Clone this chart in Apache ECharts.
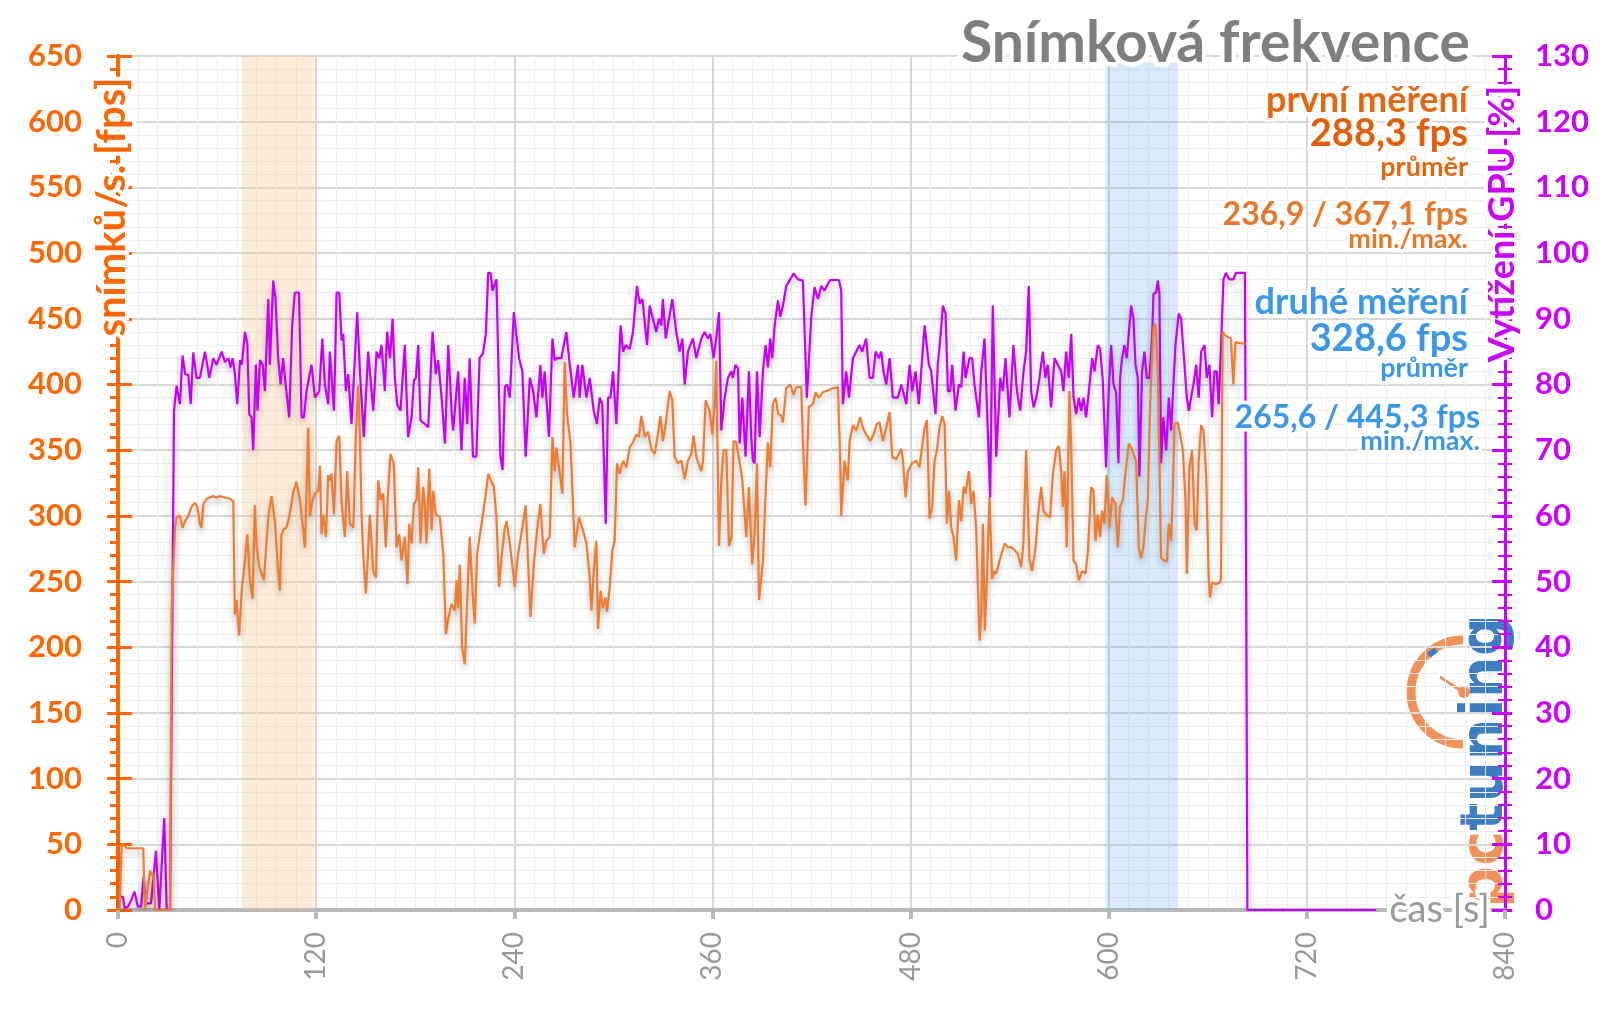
<!DOCTYPE html>
<html>
<head>
<meta charset="utf-8">
<script src="https://cdn.jsdelivr.net/npm/echarts@6/dist/echarts.min.js"></script>
<style>html,body{margin:0;padding:0;background:#fff;}#c{width:1600px;height:1009px;}</style>
</head>
<body>
<div id="c"></div>
<script>
// time axis [s]
const xMin = 0, xMax = 840, xStep = 120;
const fpsMin = 0, fpsMax = 650, fpsStep = 50;
const gpuMin = 0, gpuMax = 130, gpuStep = 10;

// first measurement: frame rate [fps]
const fpsT = [
1,2.2,4.2,5.2,15.3,16.3,17.5,19.4,20.6,21.5,
22.5,31.5,32.5,34.5,35.5,37.5,39.1,40.6,42.6,44.6,
46.6,48,49.6,50.6,51.7,53.7,55.7,57.7,59.7,61.7,
64.8,67.8,69.8,70.8,71.8,73.4,74.9,76.9,78.3,79.9,
81.5,82.9,84,85.6,87,88.4,89.6,91,93,95,
96.4,98,99,100.5,102,104,106,108,110.2,112.2,
113.2,115.2,116.2,117.8,119.3,121.3,122.3,123.3,124.3,126,
127.3,128.3,129.3,130.8,132.4,134,135.4,137.4,138.8,140.4,
142.5,144,145.5,146.5,147.5,148.5,150.1,151.5,152.5,154.6,
156.2,157.6,159,160.6,162.2,163.6,165,167,168.7,170.3,
171.7,173.7,175.3,176.4,177.8,179.2,180.8,181.8,183.2,184.8,
185.8,186.8,188.5,189.9,190.9,192.5,194.9,197,198.6,200,
202,204,205,206,207,208.4,210,211,213,214.7,
216,217.5,219,221,222.8,224.2,226.2,227.6,229.2,230.8,
232.2,234.3,235.3,237.3,240.3,242.3,244.9,246.9,249.8,251.8,
254.4,255.8,257.8,259.4,261.5,263.1,264.5,265.5,267.1,269.1,
270.5,271.9,274,275.2,276.6,279.2,281.6,283.7,285.7,286.7,
288.1,289.7,290.7,292.3,293.7,295.4,296.2,297.8,299.4,300.8,
302.2,303.8,305.9,307.9,309.9,311.9,314,315.5,317,319,
321,323,325,327,328.5,330,331.7,334.1,335.7,337.1,
339.1,341.2,343.2,345.2,347.2,348.6,350.2,353.3,354.3,355.9,
357.3,358.3,359.9,361.3,362.3,364,365.4,366.8,368.4,370,
371.6,372.8,374.4,376.5,378.1,380.5,382.1,384.1,385.5,387,
388.2,390.6,392.2,393.6,395,396.6,398.3,399.7,401.7,402.7,
404.7,407.1,409.2,410.8,413.8,414.8,416.4,418.4,420.9,422.5,
424.5,426.9,428.9,433,436,437.4,438,440,442,443.1,
445.1,447.1,449.5,451.1,453.1,455.6,457.6,459.6,461.2,463.2,
465.3,467.3,468.9,471.3,474.4,475.4,477,478.4,481,483.4,
485.4,488.5,489.9,491.5,493.1,494.5,496,497.5,499.2,500.6,
502,503.2,504.6,506,507.6,509.3,510.7,512.1,513.3,515.3,
516.7,518.1,519.7,521.8,522.8,523.8,525,526.2,527.8,529.4,
530.8,531.9,533.9,536.9,538.9,541,543,545,547,548.4,
550,552,553.6,555.7,557.1,559.1,560.5,562.1,564.5,566.2,
568.2,569.8,571.2,572.2,573.2,574.6,576.2,577.3,578.7,580.3,
581.9,583.9,585.9,587.3,589.4,590.8,592,593.4,594.8,596,
597.4,598.8,600.5,602.1,604.1,605.5,606.9,608.5,610.1,612.2,
613.6,615,616.6,618.2,619.6,621,622.7,623.7,624.7,625.7,
627.1,628.3,629.7,630.7,631.7,633.7,635.2,636.4,637.8,638.8,
639.8,641.8,643.2,644.9,646.5,647.3,648.9,650.5,652,653.3,
654.5,656,657.4,659,660.6,661.4,662.6,665,667,668,
669,671,674,675.5,676.7,682.2,683
];
const fpsV = [
0,49,49,47,47,0,0,30,26,28,
0,0,228,291,299,300,291,296,300,307,
310,307,294,291,309,313,314,315,314,315,
314,313,311,225,236,209,243,266,286,251,
237,308,276,261,256,251,274,299,315,296,
268,243,286,290,291,301,317,326,312,289,
276,367,300,312,317,319,338,286,301,284,
331,327,332,301,357,361,310,284,334,294,
291,360,399,361,301,271,241,274,301,258,
253,327,312,317,276,319,347,340,276,286,
266,284,248,294,279,309,312,337,279,322,
309,279,336,289,319,301,299,271,210,222,
233,228,251,230,263,200,187,220,284,243,
218,271,284,301,317,332,326,322,299,246,
268,291,296,279,246,271,291,308,223,263,
296,309,271,281,284,360,334,352,337,317,
417,378,356,357,276,299,289,279,253,228,
258,281,214,243,230,238,227,246,274,281,
340,332,342,337,352,356,362,360,376,360,
364,351,347,362,376,357,370,395,388,345,
340,342,328,342,347,361,345,334,342,388,
383,380,362,383,418,277,327,350,350,277,
284,357,356,341,327,284,322,263,286,340,
236,266,317,356,337,385,390,378,376,371,
397,400,392,398,398,357,308,383,385,394,
390,394,395,397,398,342,300,342,327,357,
369,365,375,367,362,357,362,370,371,357,
367,379,345,343,351,342,314,334,340,342,
337,367,373,298,307,342,350,367,376,370,
294,319,291,284,266,312,296,322,317,334,
309,319,291,205,225,294,213,251,314,252,
258,256,266,279,276,276,274,271,261,281,
350,266,258,276,299,322,304,301,299,332,
350,353,334,307,334,276,395,352,266,263,
251,258,256,271,322,319,281,301,284,304,
294,331,291,314,309,276,307,312,332,355,
352,347,342,276,268,276,301,312,365,406,
444,446,413,342,268,266,265,294,281,317,
370,371,362,350,312,256,337,350,294,289,
342,369,365,332,251,238,249,248,249,252,
440,437,435,400,432,431,431
];

// GPU load [%]
const gpuT = [
1,3,4,6,8,10,12,14,15.5,17,
20,23,25,28,29.5,31.5,33.9,35.5,37.5,39.1,
40.6,42.6,44,45.6,47.6,49.6,52.7,55.3,57.7,59.7,
62.8,64.8,66.8,68.2,69.4,70.8,72.2,73.9,75,76.9,
78.3,79.5,80.9,81.9,83.5,84.5,86,87.6,89,91,
92,94,95.4,97,98.5,100,101.5,103.7,105.5,107.1,
109.6,111.2,112.6,114.2,117.2,119.3,120.3,121.9,123.7,125.3,
127.3,128.3,129.3,130.8,132.4,134,135.4,136.4,138,139.4,
141.4,144.9,146.5,148.9,151.5,154.6,156.6,158.2,159.6,161.6,
163,164.7,166.3,167.7,169.1,171.1,173.7,175.7,177.8,179.2,
180.4,181.8,183.2,185.8,187.9,190.5,192.5,193.9,196,198,
200,202,203,206,208,210,211.5,213,215,217,
219,221,222.8,224.2,225.6,226.8,229.2,231.6,232.9,234.3,
235.7,237.3,239.7,242.9,244.9,246.9,249.4,251.4,253.4,255.8,
257,258.4,261,263.1,264.5,265.9,268.5,271.5,273.6,276,
278.6,279.6,281.2,283.7,285.7,288.1,290.1,291.7,293.3,295.4,
296.8,298.2,299.8,301.8,304.4,305.9,307.5,309.9,311.9,314.3,
315.9,317.6,320.4,322,324,326,327.6,329,330,331.7,
333.7,335.7,338.1,340.1,341.8,343.2,345.2,346.6,348.2,350.2,
353.3,355.3,357.3,358.7,360.7,362.3,364,365.4,367.4,369.4,
371.4,372.4,374,375.5,376.5,378.1,380.1,382.1,383.5,384.5,
385.5,387,388.6,390.6,392.2,393.6,395,396.2,397.7,399.7,
401.1,402.7,404.7,406.7,409.2,411.8,414.8,417.2,419.9,421.9,
423.9,425.9,427.9,429.9,431.4,436.6,438,439,441,442.7,
445.1,447.1,449.1,450.7,453.1,455.2,457.2,458.8,460.8,462.2,
463.6,465.3,467.3,469.3,472.3,474.4,477.4,479.4,481,483,
485,488.5,491.1,492.5,495.1,496.5,498,499.6,501.2,502.6,
504,505.2,507.2,509.3,510.7,512.1,513.3,515.7,517.3,518.7,
521.4,522.8,524.8,526.2,528.2,529.8,531.9,534.3,535.9,537.5,
539.9,542.3,544.4,546.4,548.4,550,551.6,553,554.5,556.1,
558.1,560.1,561.7,563.1,565.1,567.2,569.2,571.2,572.6,574.2,
575.8,577.3,578.7,580.3,581.9,583.3,584.7,586.3,588.4,590,
591.4,593.4,594.8,596.4,598.4,600,601.5,602.9,604.5,605.9,
606.9,608.1,609.5,610.9,611.9,613.6,615,616.2,617.6,618.6,
620.2,621.6,623.1,624.7,626.3,627.1,628.7,629.7,630.7,631.7,
633.1,634.8,636.4,637.8,638.8,640.4,642.4,643.8,645.9,647.3,
648.5,649.9,651.3,653,654.5,656,658,659.4,661,662.6,
664,665.4,666.6,668,669.5,671,673,675.5,677.1,682.5,
684,762
];
const gpuV = [
2,2,0.3,0.5,1.5,2.8,0.5,0.5,5,1,
1,9,0,14,0,0,76,79.8,77,84.4,
81.6,81.4,77,84.9,81,81,85,81,84,83,
85,83.4,84,82.6,84,81.6,77,83.7,83,88,
86.2,75.5,75,70,83,76,83.7,83,79,93,
83,95.8,93,84,80,84,80,75,89,94,
94,75,75,79,83,78,78,79,87,80,
77,85,85,76,94,94,86.7,87.7,79,81.6,
74,91,82,72,85,76,85,84,86,79,
88,84,90,81,77,76,86,72,75,80.6,
81,86,74.5,74,73.5,88,81.6,83.7,78,71,
86,76,73,82,70,81,74,84,69,69,
84,84.7,87.7,97,97,94.3,96,69,67,79.6,
80,78,91,84,82,69,81,79,75,83,
78,82,72,87,83.7,84,84,88,83,78,
83,78,83,78,81,76,74,78,77,58.8,
78,78,82,74,89,85,86,85.4,88,95,
92.3,93,86,92,90,88,90,89,93,87,
90,93,88,85,87,80,85,86,87,84,
87,88,87,87.7,84,87,91,73,78,81,
82,81,83,82.4,71,78,69,82,72,68.4,
68,82,72,82,86,82.6,87,84,89,92.8,
90.3,92,95,95.8,96.9,96,95.8,78,90.5,94.8,
93,95,94.3,95.3,95.9,95.9,94.3,77,82,78,
84,85,86,85,87,81,81,85,84,85,
82,80,84,78,78,80,77,83,79,82,
77,89,83,82,75.5,83,87,92,90.8,79,
79,83,76,80,79.6,85,81,84,84,80,
75,82,87,77,62.8,92,69,81,79,84,
75,86,79,76,82,85,95,79,76.5,78,
81,85,81,83,76.5,84,83,82,79,85,
81,87.7,78,75.5,78,76,78,75,80,84,
82,86,85.4,80.6,67.4,79,86,80,78.8,68,
81,84,86,84,87,92,90,83,81,66,
82,85,81,81,87,93.8,94,95.8,93.8,68,
75,70,78,73,78,86,90.8,90,83,78,
76,78,80,83,78,85,86,81,83,75,
82,82,77,85.7,96,97,96,96,97,97,
0,0
];

// highlighted time windows [s]
const bandFirst = [75, 119];
const bandSecond = [598, 642];

// texts
const titleText = 'Snímková frekvence';
const firstName = 'první měření', firstAvg = '288,3 fps', firstMinMax = '236,9 / 367,1 fps';
const secondName = 'druhé měření', secondAvg = '328,6 fps', secondMinMax = '265,6 / 445,3 fps';
const avgLabel = 'průměr', minMaxLabel = 'min./max.';
const yLeftName = 'snímků/s. [fps]', yRightName = 'Vytížení GPU [%]', xName = 'čas [s]';

const fpsData = fpsT.map((t, i) => [t, fpsV[i]]);
const gpuData = gpuT.map((t, i) => [t, gpuV[i]]);

const ORANGE_AX = '#FF6600';
const PURPLE = '#CC00FF';
const ORANGE_TXT = '#E4660E';
const BLUE_TXT = '#3B97EA';
const F = 'Lato';

function txt(text, x, y, size, color, align, opts) {
  opts = opts || {};
  return {
    type: 'text', x: x, y: y, z: 100, rotation: opts.rot || 0, silent: true,
    style: {
      text: text, fill: color,
      font: (opts.weight || 'bold') + ' ' + size + 'px ' + (opts.family || F),
      align: align, textAlign: align, verticalAlign: 'middle', textVerticalAlign: 'middle',
      stroke: '#fff', lineWidth: opts.halo == null ? 7 : opts.halo
    }
  };
}

const chart = echarts.init(document.getElementById('c'), null, {renderer: 'canvas'});
const lineShadow = {shadowColor: 'rgba(0,0,0,0.28)', shadowBlur: 6, shadowOffsetY: 4};

chart.setOption({
  animation: false,
  backgroundColor: '#ffffff',
  grid: {left: 118, right: 95, top: 56, bottom: 99, containLabel: false},
  xAxis: {
    type: 'value', min: xMin, max: xMax, interval: xStep,
    axisLine: {show: true, onZero: false, lineStyle: {color: '#b9b9b9', width: 4}},
    axisTick: {show: true, length: 9, lineStyle: {color: '#b9b9b9', width: 4}},
    axisLabel: {rotate: 90, margin: 22, color: '#999999', fontSize: 28, fontFamily: F},
    splitLine: {show: true, lineStyle: {color: '#d8d8d8', width: 2}},
    minorTick: {show: false, splitNumber: 10},
    minorSplitLine: {show: true, lineStyle: {color: '#eeeeee', width: 1}}
  },
  yAxis: [
    {
      type: 'value', min: fpsMin, max: fpsMax, interval: fpsStep, position: 'left',
      axisLine: {show: true, lineStyle: {color: ORANGE_AX, width: 4}},
      axisTick: {show: true, length: 11, lineStyle: {color: ORANGE_AX, width: 3}},
      minorTick: {show: true, splitNumber: 5, length: 8, lineStyle: {color: ORANGE_AX, width: 3}},
      axisLabel: {color: ORANGE_AX, fontSize: 31, fontWeight: 'bold', fontFamily: F, margin: 36},
      splitLine: {show: true, lineStyle: {color: '#d8d8d8', width: 2}},
      minorSplitLine: {show: true, lineStyle: {color: '#eeeeee', width: 1}}
    },
    {
      type: 'value', min: gpuMin, max: gpuMax, interval: gpuStep, position: 'right',
      axisLine: {show: true, lineStyle: {color: PURPLE, width: 3}},
      axisTick: {show: true, length: 7, lineStyle: {color: PURPLE, width: 3}},
      minorTick: {show: true, splitNumber: 5, length: 7, lineStyle: {color: PURPLE, width: 2}},
      axisLabel: {color: PURPLE, fontSize: 31, fontWeight: 'bold', fontFamily: F, margin: 30},
      splitLine: {show: false}
    },
    {
      type: 'value', min: fpsMin, max: fpsMax, interval: fpsStep, position: 'left',
      axisLine: {show: false},
      axisTick: {show: true, inside: true, length: 14, lineStyle: {color: ORANGE_AX, width: 3}},
      axisLabel: {show: false}, splitLine: {show: false}
    },
    {
      type: 'value', min: gpuMin, max: gpuMax, interval: gpuStep, position: 'right',
      axisLine: {show: false},
      axisTick: {show: true, inside: true, length: 13, lineStyle: {color: PURPLE, width: 3}},
      minorTick: {show: true, splitNumber: 5, length: 7, lineStyle: {color: PURPLE, width: 2}},
      axisLabel: {show: false}, splitLine: {show: false}
    }
  ],
  series: [
    {
      type: 'line', name: 'bands', yAxisIndex: 0, data: [], z: 1, silent: true,
      markArea: {
        silent: true,
        data: [
          [{xAxis: bandFirst[0], yAxis: 0, itemStyle: {color: 'rgba(250,200,150,0.35)'}}, {xAxis: bandFirst[1], yAxis: 650}],
          [{xAxis: bandSecond[0], yAxis: 0, itemStyle: {color: 'rgba(120,180,240,0.28)'}}, {xAxis: bandSecond[1], yAxis: 645}]
        ]
      }
    },
    {
      type: 'line', name: 'GPU', yAxisIndex: 1, data: gpuData, symbol: 'none', z: 3,
      lineStyle: Object.assign({color: '#C800F8', width: 2.2}, lineShadow)
    },
    {
      type: 'line', name: 'fps', yAxisIndex: 0, data: fpsData, symbol: 'none', z: 4,
      lineStyle: Object.assign({color: '#EE7D32', width: 2.2}, lineShadow)
    }
  ],
  graphic: [
    // logo
    {type: 'arc', z: -5, silent: true, shape: {cx: 1463, cy: 692, r: 52, startAngle: Math.PI / 2, endAngle: Math.PI * 1.5, clockwise: true},
      style: {stroke: '#F0915A', lineWidth: 9, fill: null}},
    {type: 'arc', z: -4, silent: true, shape: {cx: 1463, cy: 692, r: 50, startAngle: Math.PI * 1.26, endAngle: Math.PI * 1.32, clockwise: true},
      style: {stroke: '#3D7EC2', lineWidth: 6, fill: null}},
    {type: 'line', z: -5, silent: true, shape: {x1: 1440, y1: 677, x2: 1463, y2: 692}, style: {stroke: '#F0915A', lineWidth: 3}},
    {type: 'circle', z: -5, silent: true, shape: {cx: 1464, cy: 692, r: 6}, style: {fill: '#F0915A'}},
    {type: 'text', z: -3, silent: true, x: 1487, y: 908, rotation: Math.PI / 2,
      style: {text: '{a|pc}{b|tuning}', align: 'left', verticalAlign: 'middle', textAlign: 'left', textVerticalAlign: 'middle',
        rich: {a: {fill: '#F0915A', font: 'bold 59px "DejaVu Sans"'}, b: {fill: '#3D7EC2', font: 'bold 59px "DejaVu Sans"'}}}},
    // titles and info
    txt(titleText, 1470, 44, 57, '#7f7f7f', 'right', {halo: 9}),
    txt(firstName, 1468, 100, 36, ORANGE_TXT, 'right'),
    txt(firstAvg, 1468, 134, 38, '#E45E08', 'right'),
    txt(avgLabel, 1468, 167, 27, ORANGE_TXT, 'right'),
    txt(firstMinMax, 1468, 215, 32, '#E6782A', 'right'),
    txt(minMaxLabel, 1468, 239, 27, '#E6782A', 'right'),
    txt(secondName, 1468, 302, 36, BLUE_TXT, 'right'),
    txt(secondAvg, 1468, 339, 38, BLUE_TXT, 'right'),
    txt(avgLabel, 1468, 368, 27, BLUE_TXT, 'right'),
    txt(secondMinMax, 1480, 418, 32, BLUE_TXT, 'right'),
    txt(minMaxLabel, 1480, 441, 27, BLUE_TXT, 'right'),
    // axis names
    txt(yLeftName, 112, 207, 40, ORANGE_AX, 'center', {rot: Math.PI / 2, halo: 8}),
    txt(yRightName, 1502, 224, 36, PURPLE, 'center', {rot: Math.PI / 2, halo: 8}),
    txt(xName, 1490, 910, 38, '#999999', 'right', {weight: 'normal', halo: 8})
  ]
});
</script>
</body>
</html>
